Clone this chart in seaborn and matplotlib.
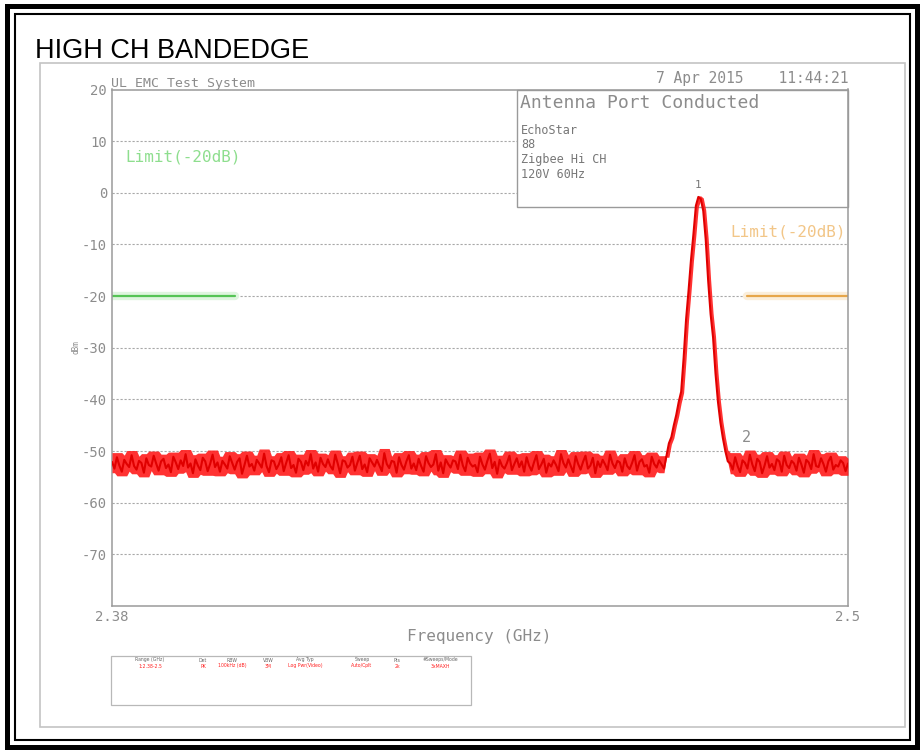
import numpy as np
import pandas as pd
import matplotlib
matplotlib.use("Agg")
import matplotlib.pyplot as plt
import seaborn as sns
from matplotlib.patches import Rectangle

# ---------------- data ----------------
title_text = "HIGH CH BANDEDGE"
x_range = [2.38, 2.5]
x_tick_labels = ["2.38", "2.5"]
y_ticks = [20, 10, 0, -10, -20, -30, -40, -50, -60, -70]
limit_level = -20
green_span = [2.38, 2.40]
orange_span = [2.4835, 2.5]
noise_left_span = [2.38, 2.4700]
noise_right_span = [2.4808, 2.5]

noise_left = [
    -52.1, -53.4, -51.2, -52.8, -54.0, -51.7, -52.5, -53.1, -50.8, -52.9, -53.6, -51.9, -52.3, -54.2, -51.4,
    -52.7, -53.0, -50.9, -52.4, -53.8, -52.0, -51.5, -53.3, -52.6, -54.1, -51.1, -52.2, -53.5, -51.8, -52.9,
    -50.6, -53.2, -52.4, -54.3, -51.6, -52.8, -53.7, -51.3, -52.0, -53.9, -52.5, -50.7, -53.1, -52.2, -54.0,
    -51.9, -52.6, -53.4, -51.0, -52.3, -53.6, -52.1, -51.4, -54.4, -52.7, -50.9, -53.0, -52.5, -53.8, -51.7,
    -52.4, -53.2, -50.5, -52.9, -54.1, -51.8, -52.0, -53.5, -52.6, -51.2, -53.9, -52.3, -50.8, -53.3, -52.7,
    -54.2, -51.5, -52.1, -53.7, -51.9, -52.8, -50.6, -53.4, -52.2, -54.0, -51.3, -52.5, -53.1, -51.6, -52.9,
    -53.6, -50.7, -52.4, -54.3, -51.8, -52.0, -53.2, -52.7, -51.1, -53.8, -52.3, -50.9, -53.5, -52.6, -54.1,
    -51.4, -52.2, -53.0, -51.7, -52.8, -53.9, -50.4, -52.5, -53.3, -51.9, -52.1, -54.2, -51.2, -52.7, -53.6,
    -52.0, -50.8, -53.4, -52.4, -53.7, -51.5, -52.9, -54.0, -51.0, -52.3, -53.1, -52.6, -50.6, -53.8, -52.2,
    -54.3, -51.6, -52.5, -53.2, -51.8, -52.0, -53.5, -50.7, -52.8, -53.9, -51.3, -52.4, -53.0, -52.7, -54.1,
    -51.1, -52.6, -53.6, -51.9, -50.5, -53.3, -52.1, -54.4, -51.7, -52.9, -53.4, -52.3, -50.9, -53.7, -52.5,
    -51.4, -53.1, -52.0, -54.0, -51.2, -52.8, -53.8, -52.2, -50.8, -53.5, -52.6, -51.5, -54.2, -52.4, -53.0,
    -51.8, -52.7, -53.9, -50.6, -52.3, -53.2, -51.6, -52.9, -54.1, -51.0, -52.5, -53.6, -52.1, -50.9, -53.4,
    -52.8, -51.3, -54.3, -52.0, -53.1, -51.7, -52.6, -53.7, -50.7, -52.4, -53.3, -51.9, -52.2, -54.0, -51.4,
    -52.9, -53.5, -52.3, -50.8, -53.8, -52.1, -51.6, -53.0, -52.7, -54.2, -51.1, -52.5, -53.2, -51.8, -52.6,
    -53.4,
]
peak_freq = [2.4704, 2.4708, 2.4712, 2.4716, 2.4720, 2.4724, 2.4728, 2.4732, 2.4736,
             2.4740, 2.4744, 2.4748, 2.4752, 2.4756, 2.4760, 2.4764, 2.4768, 2.4772,
             2.4776, 2.4780, 2.4784, 2.4788, 2.4792, 2.4796, 2.4800, 2.4804]
peak_level = [-51.0, -48.5, -47.3, -45.0, -43.0, -40.5, -38.5, -32.0, -24.5,
              -19.0, -13.0, -8.0, -2.5, -0.8, -1.2, -3.5, -9.0, -17.0,
              -23.5, -28.0, -35.0, -40.5, -44.5, -47.5, -50.0, -52.0]
noise_right = [
    -52.4, -53.6, -51.2, -52.9, -54.1, -51.8, -52.3, -53.4, -50.7, -52.6, -53.9, -51.5, -52.1, -54.3, -52.8,
    -51.0, -53.2, -52.5, -53.7, -51.6, -52.0, -54.0, -50.9, -52.7, -53.3, -51.9, -52.4, -53.8, -51.3, -52.6,
    -54.2, -51.7, -52.2, -53.5, -50.6, -52.9, -53.1, -51.4, -52.5, -54.0, -52.0, -51.1, -53.6, -52.7, -53.0,
    -51.8, -52.3, -53.9, -52.4,
]
marker1 = (2.4756, "1")
marker2 = (2.4835, "2")

header_cols = ["Range (GHz)", "Det", "RBW", "VBW", "Avg Typ", "Sweep", "Pts", "#Sweeps/Mode"]
value_cols = ["1:2.38-2.5", "PK", "100kHz (dB)", "3M", "Log Pwr(Video)", "Auto/Cplt", "2k", "3xMAXH"]

# ---------------- build table ----------------
f_left = np.linspace(noise_left_span[0], noise_left_span[1], len(noise_left))
f_right = np.linspace(noise_right_span[0], noise_right_span[1], len(noise_right))
freq = np.concatenate([f_left, np.array(peak_freq), f_right])
level = np.concatenate([noise_left, peak_level, noise_right])
df = pd.DataFrame({"freq": freq, "level": level})


def envelope(vals, win):
    s = pd.Series(vals, dtype=float)
    return (s.rolling(win, center=True, min_periods=1).min().to_numpy(),
            s.rolling(win, center=True, min_periods=1).max().to_numpy())


lo_l, hi_l = envelope(noise_left, 5)
lo_r, hi_r = envelope(noise_right, 5)
lo_p, hi_p = envelope(peak_level, 2)
df["lo"] = np.concatenate([lo_l - 0.8, lo_p - 0.2, lo_r - 0.8])
df["hi"] = np.concatenate([hi_l + 0.9, hi_p + 0.2, hi_r + 0.9])

sns.set_theme(style="white")
plt.rcParams["font.family"] = ["DejaVu Sans Mono", "DejaVu Sans"]

W, H = 923, 752
fig = plt.figure(figsize=(W / 100, H / 100), dpi=100)
fig.patch.set_facecolor("white")


def fx(px):
    return px / W


def fy(py):
    return 1 - py / H


def frect(x0, y0, x1, y1, **kw):
    r = Rectangle((fx(x0), fy(y1)), fx(x1) - fx(x0), fy(y0) - fy(y1),
                  transform=fig.transFigure, **kw)
    fig.patches.append(r)
    return r


# page borders
frect(7, 6, 917, 747, fill=False, ec="black", lw=3.6)
frect(15, 14, 910, 740, fill=False, ec="black", lw=1.5)
frect(40, 63, 905, 727, fill=False, ec="#c4c4c4", lw=1.2)

fig.text(fx(35), fy(58), title_text, family=["Liberation Sans"], fontsize=19.5,
         color="black", va="baseline", ha="left")

ax = fig.add_axes([fx(112), fy(606), fx(848) - fx(112), fy(89.5) - fy(606)])
ax.set_facecolor("white")

gray = "#8c8c8c"

# annotation box (white, covers gridlines)
box = Rectangle((fx(517), fy(207)), fx(848) - fx(517), fy(89.5) - fy(207),
                transform=fig.transFigure, fc="white", ec="#9a9a9a", lw=1.0,
                zorder=1.5, clip_on=False)
ax.add_patch(box)

# limit lines
lim_df_g = pd.DataFrame({"freq": green_span, "level": [limit_level] * 2})
lim_df_o = pd.DataFrame({"freq": orange_span, "level": [limit_level] * 2})
sns.lineplot(data=lim_df_g, x="freq", y="level", ax=ax, color="#dff5df", lw=6, zorder=2)
sns.lineplot(data=lim_df_g, x="freq", y="level", ax=ax, color="#55c455", lw=1.6, zorder=2.1)
sns.lineplot(data=lim_df_o, x="freq", y="level", ax=ax, color="#fbeeda", lw=6, zorder=2)
sns.lineplot(data=lim_df_o, x="freq", y="level", ax=ax, color="#e6a64a", lw=1.6, zorder=2.1)

# trace: max-hold band + sweep line
ax.fill_between(df["freq"], df["lo"], df["hi"], color="#ff1c1c", lw=0,
                alpha=0.9, zorder=2.8)
sns.lineplot(data=df, x="freq", y="level", ax=ax, color="#e00000", lw=1.5,
             estimator=None, sort=False, zorder=3)

ax.set_xlim(*x_range)
ax.set_ylim(-80, 20)
ax.set_yticks(y_ticks)
ax.set_yticklabels([str(v) for v in y_ticks])
ax.set_xticks(x_range)
ax.set_xticklabels(x_tick_labels)
ax.set_xlabel("")
ax.set_ylabel("")
ax.yaxis.grid(True, color="#a8a8a8", linestyle=(0, (2, 1.6)), lw=0.8)
ax.xaxis.grid(False)
ax.set_axisbelow(True)
for s in ax.spines.values():
    s.set_color("#9a9a9a")
    s.set_linewidth(1.1)
ax.tick_params(axis="both", length=0, labelcolor=gray, labelsize=10)
ax.tick_params(axis="y", pad=3.5)
ax.tick_params(axis="x", pad=3)

# texts
fig.text(fx(111), fy(83), "UL EMC Test System", fontsize=9.5, color=gray, va="center", ha="left")
fig.text(fx(848), fy(78), "7 Apr 2015    11:44:21", fontsize=10.5, color=gray, va="center", ha="right")
fig.text(fx(520), fy(103), "Antenna Port Conducted", fontsize=13, color=gray, va="center", ha="left")
for txt, yy in [("EchoStar", 131), ("88", 145), ("Zigbee Hi CH", 160), ("120V 60Hz", 174)]:
    fig.text(fx(521), fy(yy), txt, fontsize=8.5, color="#777777", va="center", ha="left")

ax.text(green_span[0] + 0.0021, 6.9, "Limit(-20dB)", fontsize=11.5, color="#8ede8e",
        va="center", ha="left")
ax.text(2.5 - 0.0004, -7.5, "Limit(-20dB)", fontsize=11.5, color="#f2c688",
        va="center", ha="right")

ax.text(marker1[0], 0.6, marker1[1], fontsize=8, color="#777777", ha="center", va="bottom", zorder=4)
ax.text(marker2[0], -48.8, marker2[1], fontsize=11, color=gray, ha="center", va="bottom", zorder=4)

fig.text(fx(76), fy(347), "dBm", fontsize=5.5, rotation=90, color=gray, va="center", ha="center")
fig.text(fx(479), fy(637), "Frequency (GHz)", fontsize=11.5, color=gray, va="center", ha="center")

# settings table
frect(111, 656, 471, 705, fill=False, ec="#b8b8b8", lw=0.9)
col_x = [150, 203, 232, 268, 305, 362, 397, 440]
for cx, h, v in zip(col_x, header_cols, value_cols):
    fig.text(fx(cx), fy(660), h, fontsize=3.3, color="#666666", ha="center", va="center",
             family=["DejaVu Sans"])
    fig.text(fx(cx), fy(666), v, fontsize=3.3, color="#ff2020", ha="center", va="center",
             family=["DejaVu Sans"])

fig.savefig("out.png", dpi=100)
